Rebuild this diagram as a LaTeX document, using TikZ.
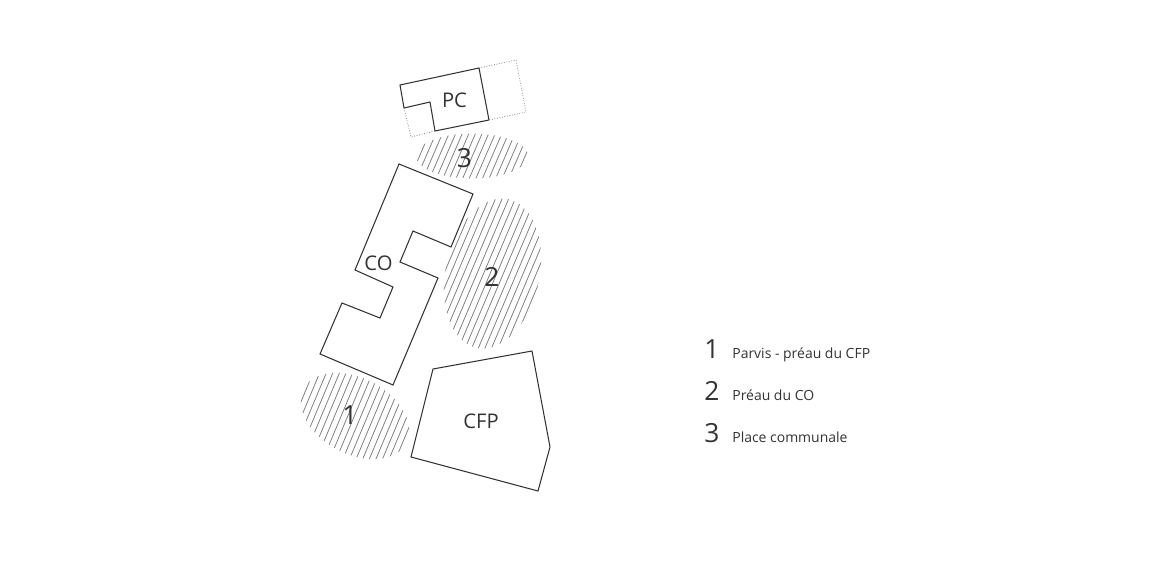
\documentclass[tikz,border=0pt]{standalone}
\usepackage{fontspec}
\setmainfont{Open Sans}
\definecolor{ink}{HTML}{333333}
\definecolor{hatchgrey}{HTML}{808080}
\tikzset{
    wall/.style={draw=ink, line width=.6pt, line join=miter},
    annex/.style={draw=hatchgrey, line width=.45pt, densely dotted},
    hatchline/.style={draw=hatchgrey, line width=.45pt},
    blocklabel/.style={font=\fontsize{11.5}{12}\selectfont, text=ink, inner sep=0pt},
    zonelabel/.style={font=\fontsize{15}{15}\selectfont, text=ink, inner sep=0pt},
    legendtext/.style={font=\fontsize{7.95}{8}\selectfont, text=ink, inner sep=0pt, anchor=base west},
    legendnum/.style={font=\fontsize{15}{15}\selectfont, text=ink, inner sep=0pt, anchor=base west},
}
\begin{document}
\begin{tikzpicture}[x=0.02cm, y=-0.02cm]
    \useasboundingbox (0,0) rectangle (1170,568);

    % zone 3
    \begin{scope}
        \clip (472,156) ellipse [x radius=56, y radius=22.5];
        \foreach \x in {400,406.6,...,560}
            \draw[hatchline] (\x,125) -- ({\x-26},185);
    \end{scope}

    % zone 2
    \begin{scope}
        \clip[rotate around={-12:(492.5,273.5)}] (492.5,273.5) ellipse [x radius=47, y radius=76];
        \foreach \x in {420,426.6,...,680}
            \draw[hatchline] (\x,190) -- ({\x-70},355);
    \end{scope}

    % zone 1
    \begin{scope}
        \clip[rotate around={-28:(355,416)}] (355,416) ellipse [x radius=58, y radius=38];
        \foreach \x in {290,296.6,...,470}
            \draw[hatchline] (\x,365) -- ({\x-42},465);
    \end{scope}

    % PC
    \coordinate (pca) at (400,85);
    \coordinate (pcb) at (479,68);
    \coordinate (pcc) at (489,120);
    \coordinate (pcd) at (435,131);
    \coordinate (pce) at (430,102);
    \coordinate (pcf) at (404,108);
    \draw[annex] (pcb) -- (516,60) -- (526,112) -- (pcc);
    \draw[annex] (pcf) -- (411,137) -- (pcd);
    \draw[wall] (pcb) -- (pcc);
    \draw[wall] (pcf) -- (pca) -- (pcb);
    \draw[wall] (pcc) -- (pcd) -- (pce) -- (pcf);
    \node[blocklabel] (pc) at (454.5,100.5) {PC};

    % CO
    \draw[wall] (399,164) -- (473,194) -- (451,247) -- (413,231) -- (400,262)
        -- (438,278) -- (393,385) -- (320,354) -- (342,303) -- (380,318)
        -- (393,287) -- (355,270) -- cycle;
    \node[blocklabel] (co) at (378.5,263) {CO};

    % CFP
    \draw[wall] (433,369) -- (532,351) -- (550,447) -- (538,491) -- (411,457) -- cycle;
    \node[blocklabel] (cfp) at (481,421) {CFP};

    % numbers on the plan
    \node[zonelabel] (n3) at (464.5,158.5) {3};
    \node[zonelabel] (n2) at (492,277) {2};
    \node[zonelabel] (n1) at (350,415) {1};

    % legend
    \node[legendnum]  (l1) at (704,358) {1};
    \node[legendtext] (t1) at (732,358) {Parvis - préau du CFP};
    \node[legendnum]  (l2) at (704,400) {2};
    \node[legendtext] (t2) at (732,400) {Préau du CO};
    \node[legendnum]  (l3) at (704,442) {3};
    \node[legendtext] (t3) at (732,442) {Place communale};
\end{tikzpicture}
\end{document}
